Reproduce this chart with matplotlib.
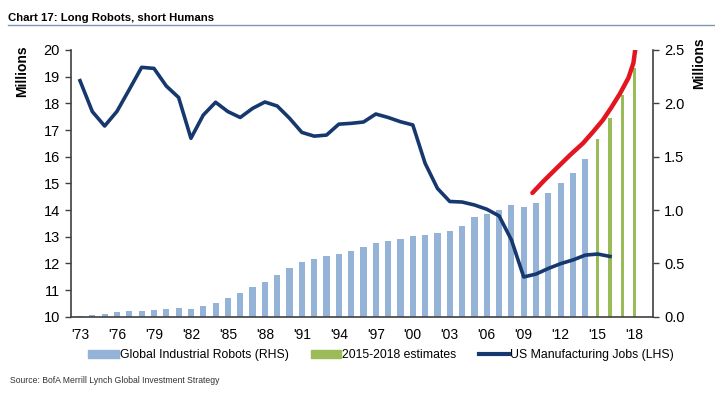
import matplotlib
matplotlib.use("Agg")
import matplotlib.pyplot as plt
from matplotlib.patches import Patch
from matplotlib.lines import Line2D

plt.rcParams['font.family'] = ['Liberation Sans', 'DejaVu Sans']

years = list(range(1973, 2019))
year_labels = ["'" + str(y)[2:] for y in years[::3]]

# US manufacturing jobs, millions (LHS), 1973-2016
jobs = [18.85, 17.69, 17.15, 17.7, 18.52, 19.35, 19.31, 18.65, 18.22, 16.69,
        17.56, 18.04, 17.69, 17.47, 17.81, 18.05, 17.9, 17.44, 16.91, 16.77,
        16.81, 17.22, 17.25, 17.3, 17.6, 17.47, 17.31, 17.19, 15.75, 14.81,
        14.32, 14.3, 14.19, 14.03, 13.78, 12.88, 11.49, 11.6, 11.81, 11.99,
        12.13, 12.31, 12.35, 12.26]

# global industrial robots, millions (RHS), 1973-2014
robots = [0.01, 0.02, 0.03, 0.04, 0.05, 0.055, 0.065, 0.075, 0.085, 0.07,
          0.1, 0.13, 0.18, 0.225, 0.275, 0.33, 0.39, 0.46, 0.515, 0.545,
          0.565, 0.59, 0.615, 0.65, 0.694, 0.712, 0.731, 0.756, 0.766, 0.781,
          0.806, 0.853, 0.931, 0.96, 1.0, 1.044, 1.028, 1.066, 1.162, 1.25,
          1.344, 1.478]

# 2015-2018 estimates
est_years = [2015, 2016, 2017, 2018]
estimates = [1.662, 1.859, 2.078, 2.328]

# hand drawn red curve (x in years, y in RHS millions)
red_x = [2009.7, 2010.6, 2011.65, 2012.8, 2013.8, 2014.6, 2015.4, 2016.1, 2016.8, 2017.5, 2017.9, 2018.1]
red_y = [1.16, 1.27, 1.39, 1.52, 1.625, 1.73, 1.84, 1.96, 2.09, 2.24, 2.38, 2.55]

navy = '#16386e'
blue = '#95b3d7'
green = '#9bbb59'
red = '#e3151f'

fig = plt.figure(figsize=(7.15, 3.93), dpi=100)
ax = fig.add_axes([0.0993, 0.1941, 0.8137, 0.6787])
ax2 = ax.twinx()

ax2.bar(years[:len(robots)], robots, width=0.5, color=blue, zorder=2)
ax2.bar(est_years, estimates, width=0.25, color=green, zorder=2)
ax2.plot(red_x, red_y, color=red, lw=3.2, solid_capstyle='round', zorder=3)
ax.plot(years[:len(jobs)], jobs, color=navy, lw=2.6, solid_joinstyle='round', zorder=4)

ax.set_zorder(ax2.get_zorder() + 1)
ax.patch.set_visible(False)

ax.set_xlim(1973 - 0.73, 1973 + 46.47)
ax.set_ylim(10, 20)
ax2.set_ylim(0, 2.5)
ax.set_yticks(range(10, 21))
ax2.set_yticks([0, 0.5, 1.0, 1.5, 2.0, 2.5])
ax2.set_yticklabels(['0.0', '0.5', '1.0', '1.5', '2.0', '2.5'])
ax.set_xticks(years[::3])
ax.set_xticklabels(year_labels)

for a in (ax, ax2):
    a.spines['top'].set_visible(False)
    for s in ('left', 'right', 'bottom'):
        a.spines[s].set_color('#404040')
        a.spines[s].set_linewidth(1.2)
ax.spines['right'].set_visible(False)
ax2.spines['left'].set_visible(False)
ax2.spines['bottom'].set_visible(False)

ax.tick_params(axis='y', labelsize=10.5, length=4, width=1, color='#404040', pad=4)
ax.tick_params(axis='x', labelsize=10, length=0, pad=8)
ax2.tick_params(axis='y', labelsize=10.5, length=4, width=1, color='#404040', pad=4)

fig.text(0.031, 0.82, 'Millions', rotation=90, fontsize=10, fontweight='bold', ha='center', va='center')
fig.text(0.978, 0.84, 'Millions', rotation=90, fontsize=10, fontweight='bold', ha='center', va='center')

fig.text(0.011, 0.955, 'Chart 17: Long Robots, short Humans', fontsize=8.2, fontweight='bold',
         ha='left', va='center')
fig.add_artist(Line2D([0.011, 1.0], [0.936, 0.936], color='#8096b8', lw=1, transform=fig.transFigure))

handles = [Patch(color=blue), Patch(color=green), Line2D([], [], color=navy, lw=3)]
labels = ['Global Industrial Robots (RHS)', '2015-2018 estimates', 'US Manufacturing Jobs (LHS)']
fig.legend(handles, labels, loc='center', bbox_to_anchor=(0.533, 0.097), ncol=3, frameon=False,
           fontsize=8.8, handlelength=2.5, handleheight=0.65, handletextpad=0.1, columnspacing=1.8)

fig.text(0.014, 0.031, 'Source: BofA Merrill Lynch Global Investment Strategy', fontsize=6.2,
         ha='left', va='center', color='#333333')

fig.savefig('out.png', dpi=100)
